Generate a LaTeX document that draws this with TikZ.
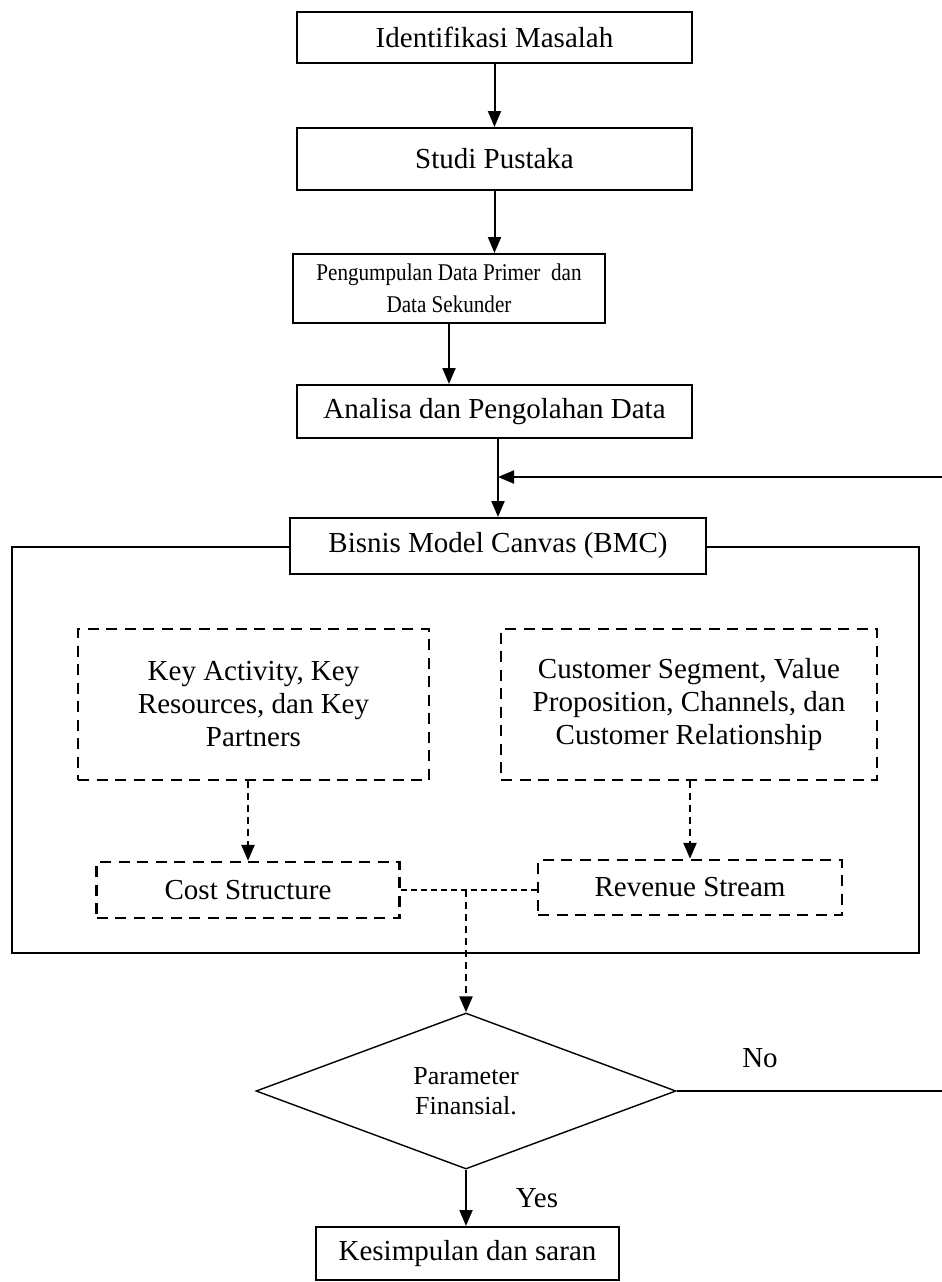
\documentclass[tikz,border=0pt]{standalone}
\usepackage{fontspec}
\setmainfont{Liberation Serif}
\newfontfamily\condfont[FakeStretch=0.88]{Liberation Serif}
\usetikzlibrary{arrows.meta,shapes.geometric}
\newcommand{\mainsz}{\fontsize{29}{33}\selectfont}
\newcommand{\smallsz}{\condfont\fontsize{24}{32}\selectfont}
\begin{document}
\begin{tikzpicture}[x=1pt,y=-1pt,
  box/.style={draw, line width=2pt, rectangle, inner sep=0pt, align=center, font=\mainsz},
  dbox/.style={draw, line width=2.5pt, dash pattern=on 11pt off 7.5pt, rectangle, inner sep=0pt, align=center, font=\mainsz},
  arr/.style={line width=2pt, -{Triangle[length=16pt,width=13pt]}},
  darr/.style={line width=2.5pt, dash pattern=on 7pt off 5pt, -{Triangle[length=16pt,width=13pt]}},
  dline/.style={line width=2pt, dash pattern=on 6pt off 4pt},
  lbl/.style={font=\mainsz, inner sep=0pt}]
\useasboundingbox (0,0) rectangle (942,1282);
\node[box, minimum width=395pt, minimum height=51pt] (id) at (494.5,37.5) {Identifikasi Masalah};
\node[box, minimum width=395pt, minimum height=62pt] (studi) at (494.5,159) {Studi Pustaka};
\node[box, minimum width=312pt, minimum height=69pt, font=\smallsz] (kumpul) at (449,288.5) {Pengumpulan Data Primer\ \ dan\\Data Sekunder};
\node[box, minimum width=395pt, minimum height=53pt] (analisa) at (494.5,411.5) {Analisa dan Pengolahan Data};
\node[box, minimum width=907pt, minimum height=406pt] (outer) at (465.5,750) {};
\node[box, fill=white, minimum width=416pt, minimum height=56pt] (bmc) at (498,546) {Bisnis Model Canvas (BMC)};
\node[dbox, minimum width=351pt, minimum height=151pt] (box1) at (253.5,704.5) {Key Activity, Key\\Resources, dan Key\\Partners};
\node[dbox, minimum width=376pt, minimum height=151pt] (box2) at (689,704.5) {Customer Segment, Value\\Proposition, Channels, dan\\Customer Relationship};
\node[dbox, minimum width=303pt, minimum height=56pt] (cost) at (248,890) {Cost Structure};
\node[dbox, minimum width=304pt, minimum height=55pt] (rev) at (690,887.5) {Revenue Stream};
\node[draw, line width=1.4pt, diamond, minimum width=420pt, minimum height=156pt, inner sep=0pt, align=center, font=\fontsize{26}{30}\selectfont] (dia) at (466,1091) {Parameter\\Finansial.};
\node[box, minimum width=303pt, minimum height=53pt] (kes) at (467.5,1253.5) {Kesimpulan dan saran};
\node[lbl] (no) at (760,1058) {No};
\node[lbl] (yes) at (537,1198) {Yes};
\coordinate (fbR) at (970,1091);
\coordinate (fbT) at (970,477);
\coordinate (j) at (dia.north |- cost.east);
\draw[arr] (id.south) -- (studi.north);
\draw[arr] (studi.south) -- (studi.south |- kumpul.north);
\draw[arr] (kumpul.south) -- (kumpul.south |- analisa.north);
\draw[arr] (bmc.north |- analisa.south) -- (bmc.north);
\draw[darr] (cost.north |- box1.south) -- (cost.north);
\draw[darr] (rev.north |- box2.south) -- (rev.north);
\draw[dline] (cost.east) -- (cost.east -| rev.west);
\draw[darr] (j) -- (dia.north);
\draw[arr] (dia.south) -- (dia.south |- kes.north);
\draw[line width=1.4pt] (dia.east) -- (fbR);
\draw[arr] (fbR) -- (fbT) -- (fbT -| bmc.north);
\end{tikzpicture}
\end{document}
